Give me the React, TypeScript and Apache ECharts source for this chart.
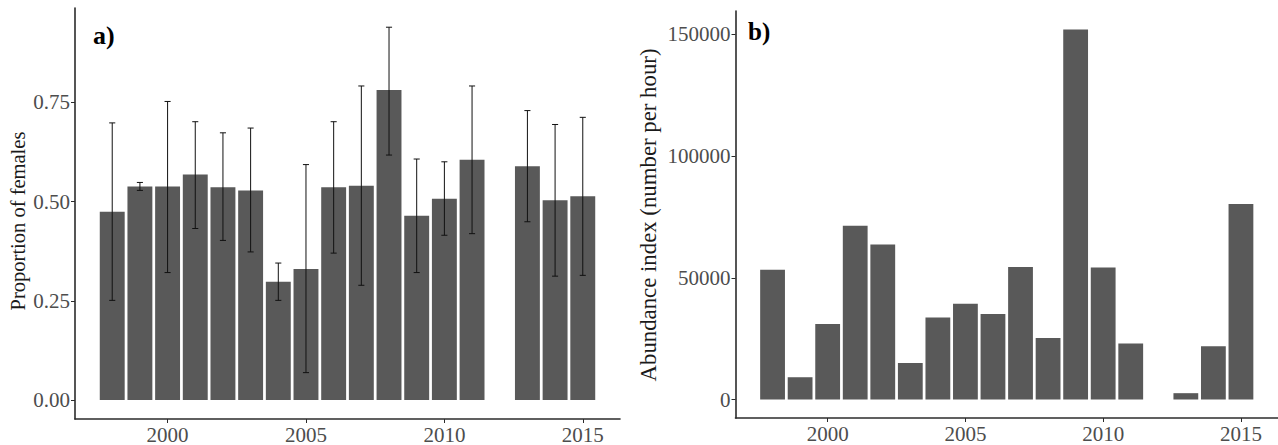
import React, { useEffect, useRef } from "react";
import * as echarts from "echarts";

// Survey years (no sampling in 2012)
const years = [1998, 1999, 2000, 2001, 2002, 2003, 2004, 2005, 2006, 2007, 2008, 2009, 2010, 2011, 2013, 2014, 2015];

// Panel a) proportion of females with confidence limits
const femaleProportion = [0.474, 0.538, 0.538, 0.568, 0.536, 0.528, 0.298, 0.33, 0.536, 0.54, 0.781, 0.464, 0.507, 0.605, 0.589, 0.503, 0.513];
const ciLower = [0.251, 0.528, 0.321, 0.432, 0.402, 0.373, 0.251, 0.069, 0.37, 0.289, 0.617, 0.321, 0.415, 0.419, 0.449, 0.312, 0.314];
const ciUpper = [0.698, 0.548, 0.752, 0.701, 0.673, 0.685, 0.345, 0.593, 0.701, 0.791, 0.939, 0.607, 0.6, 0.791, 0.729, 0.694, 0.712];

// Panel b) abundance index (number per hour)
const abundance = [53300, 9150, 31000, 71400, 63700, 15000, 33700, 39300, 35100, 54400, 25300, 152000, 54200, 23000, 2600, 21900, 80300];

const yearTicks = [2000, 2005, 2010, 2015];
const proportionTicks = [0, 0.25, 0.5, 0.75];
const abundanceTicks = [0, 50000, 100000, 150000];

const FONT = "Liberation Serif";
const BAR_FILL = "#595959";
const AXIS_COLOR = "#2b2b2b";
const LABEL_COLOR = "#4d4d4d";
const TITLE_COLOR = "#1a1a1a";
const X_MIN = 1996.655;
const X_MAX = 2016.345;
const HALF_BAR = 0.45;
const HALF_CAP = 0.11;

const barRenderer = (params: any, api: any) => {
  const x = api.value(0);
  const y = api.value(1);
  const p0 = api.coord([x - HALF_BAR, 0]);
  const p1 = api.coord([x + HALF_BAR, y]);
  return {
    type: "rect",
    shape: { x: p0[0], y: p1[1], width: p1[0] - p0[0], height: p0[1] - p1[1] },
    style: { fill: BAR_FILL },
  };
};

const errorRenderer = (params: any, api: any) => {
  const x = api.value(0);
  const lo = api.coord([x, api.value(1)]);
  const hi = api.coord([x, api.value(2)]);
  const capL = api.coord([x - HALF_CAP, 0])[0];
  const capR = api.coord([x + HALF_CAP, 0])[0];
  const style = { stroke: "#111", lineWidth: 1 };
  return {
    type: "group",
    children: [
      { type: "line", shape: { x1: lo[0], y1: lo[1], x2: hi[0], y2: hi[1] }, style },
      { type: "line", shape: { x1: capL, y1: lo[1], x2: capR, y2: lo[1] }, style },
      { type: "line", shape: { x1: capL, y1: hi[1], x2: capR, y2: hi[1] }, style },
    ],
  };
};

const xAxisFor = (gridIndex: number) => ({
  type: "value",
  gridIndex,
  min: X_MIN,
  max: X_MAX,
  splitLine: { show: false },
  axisLine: { show: true, onZero: false, lineStyle: { color: AXIS_COLOR, width: 1.6 } },
  axisTick: { show: true, customValues: yearTicks, length: 4, lineStyle: { color: AXIS_COLOR, width: 1 } },
  axisLabel: {
    customValues: yearTicks,
    formatter: (v: number) => String(v),
    color: LABEL_COLOR,
    fontFamily: FONT,
    fontSize: 21,
    margin: 5,
  },
});

const yAxisFor = (gridIndex: number, min: number, max: number, ticks: number[], fmt: (v: number) => string) => ({
  type: "value",
  gridIndex,
  min,
  max,
  splitLine: { show: false },
  axisLine: { show: true, onZero: false, lineStyle: { color: AXIS_COLOR, width: 1.6 } },
  axisTick: { show: true, customValues: ticks, length: 4, lineStyle: { color: AXIS_COLOR, width: 1 } },
  axisLabel: {
    customValues: ticks,
    formatter: fmt,
    color: LABEL_COLOR,
    fontFamily: FONT,
    fontSize: 21,
    margin: 5,
  },
});

// Rotated axis title (reads bottom to top)
const axisTitle = (text: string, x: number, y: number, fontSize: number) => ({
  type: "text",
  x,
  y,
  rotation: Math.PI / 2,
  style: { text, fontFamily: FONT, fontSize, fill: TITLE_COLOR, align: "center", verticalAlign: "middle" },
});

export default function App() {
  const ref = useRef<HTMLDivElement>(null);

  useEffect(() => {
    if (!ref.current) return;
    const chart = echarts.init(ref.current, null, { renderer: "svg" });

    const proportionData = years.map((yr, i) => [yr, femaleProportion[i]]);
    const ciData = years.map((yr, i) => [yr, ciLower[i], ciUpper[i]]);
    const abundanceData = years.map((yr, i) => [yr, abundance[i]]);

    chart.setOption({
      animation: false,
      backgroundColor: "#ffffff",
      grid: [
        { left: 75, top: 8, width: 545, height: 412 },
        { left: 735.5, top: 11, width: 542.5, height: 407 },
      ],
      xAxis: [xAxisFor(0), xAxisFor(1)],
      yAxis: [
        yAxisFor(0, -0.0478, 0.9874, proportionTicks, (v) => v.toFixed(2)),
        yAxisFor(1, -7602, 159651, abundanceTicks, (v) => String(v)),
      ],
      series: [
        {
          type: "custom",
          xAxisIndex: 0,
          yAxisIndex: 0,
          renderItem: barRenderer,
          encode: { x: 0, y: 1 },
          data: proportionData,
        },
        {
          type: "custom",
          xAxisIndex: 0,
          yAxisIndex: 0,
          renderItem: errorRenderer,
          encode: { x: 0, y: [1, 2] },
          data: ciData,
          z: 3,
        },
        {
          type: "custom",
          xAxisIndex: 1,
          yAxisIndex: 1,
          renderItem: barRenderer,
          encode: { x: 0, y: 1 },
          data: abundanceData,
        },
      ],
      graphic: [
        axisTitle("Proportion of females", 18, 221, 20.5),
        axisTitle("Abundance index (number per hour)", 648, 215, 22.8),
        {
          type: "text",
          x: 93,
          y: 35,
          style: { text: "a)", fontFamily: FONT, fontWeight: "bold", fontSize: 26, fill: "#000", verticalAlign: "middle", align: "left" },
        },
        {
          type: "text",
          x: 748,
          y: 31,
          style: { text: "b)", fontFamily: FONT, fontWeight: "bold", fontSize: 25, fill: "#000", verticalAlign: "middle", align: "left" },
        },
      ],
    });

    return () => chart.dispose();
  }, []);

  return (
    <div
      ref={ref}
      style={{ position: "fixed", left: 0, top: 0, width: 1278, height: 445, background: "#fff" }}
    />
  );
}
